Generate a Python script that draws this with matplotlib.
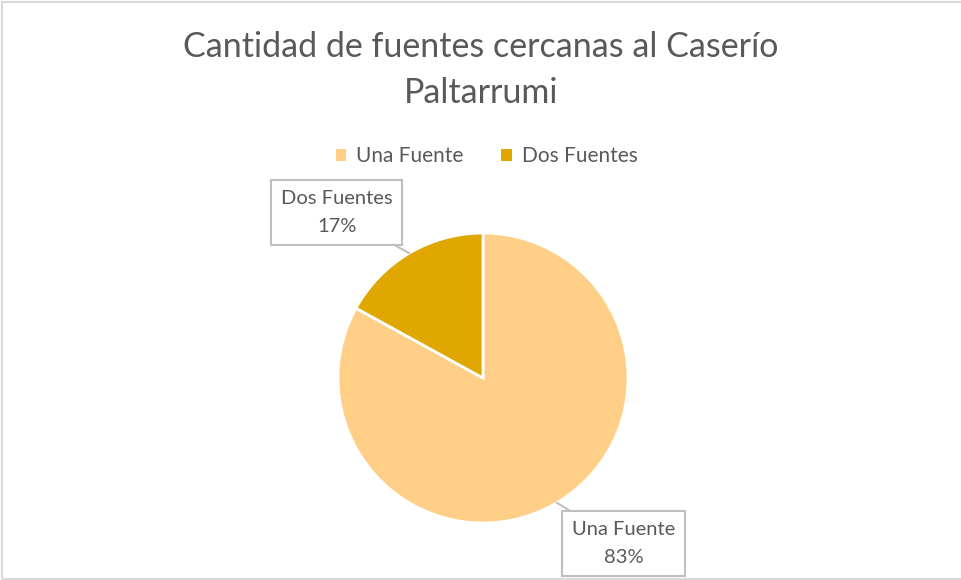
import numpy as np
import matplotlib.pyplot as plt
from matplotlib.patches import Rectangle

# Data
categorias = ["Una Fuente", "Dos Fuentes"]
porcentajes = [83, 17]
colores = ["#FFCF87", "#DFA700"]
titulo = "Cantidad de fuentes cercanas al Caserío\nPaltarrumi"

plt.rcParams['font.family'] = ['Lato', 'DejaVu Sans']
gris = "#595959"

W, H = 962, 580
fig = plt.figure(figsize=(W / 100, H / 100), dpi=100)

# chart border
fig.patches.append(Rectangle((1.5 / W, 1.5 / H), 1.2, (H - 3) / H, transform=fig.transFigure,
                             facecolor='none', edgecolor='#D9D9D9', linewidth=1.5))

fig.text(0.5, 1 - 70 / H, titulo, ha='center', va='center', fontsize=24.5, color=gris,
         linespacing=1.55)

# pie area (pixel box of the circle)
cx, cy, r = 483, 378, 145
ax = fig.add_axes([(cx - r) / W, (H - cy - r) / H, 2 * r / W, 2 * r / H])
wedges, _ = ax.pie(porcentajes, colors=colores, startangle=90, counterclock=False,
                   wedgeprops=dict(edgecolor='white', linewidth=2))
ax.set_xlim(-1, 1)
ax.set_ylim(-1, 1)
ax.set_aspect('equal')
ax.axis('off')

# legend
handles = [plt.Rectangle((0, 0), 1, 1, facecolor=c) for c in colores]
fig.legend(handles, categorias, loc='center', bbox_to_anchor=(0.506, 1 - 156 / H), ncol=2,
           frameon=False, fontsize=15, labelcolor=gris, handlelength=0.5, handleheight=0.5,
           handletextpad=0.5, columnspacing=1.8)

# data labels with callout boxes
offsets = {"Una Fuente": (0.97, -1.14), "Dos Fuentes": (-1.01, 1.14)}
for w, cat, p in zip(wedges, categorias, porcentajes):
    ang = np.deg2rad((w.theta1 + w.theta2) / 2)
    px, py = np.cos(ang), np.sin(ang)
    tx, ty = offsets[cat]
    ax.annotate(f"{cat}\n{p}%", xy=(px, py), xytext=(tx, ty), ha='center', va='center',
                fontsize=14.5, color=gris, linespacing=1.75, annotation_clip=False,
                bbox=dict(boxstyle='square,pad=0.5', facecolor='white', edgecolor='#BFBFBF',
                          linewidth=1.5),
                arrowprops=dict(arrowstyle='-', color='#BFBFBF', linewidth=1.5,
                                shrinkA=0, shrinkB=0))

fig.savefig("out.png", dpi=100)
